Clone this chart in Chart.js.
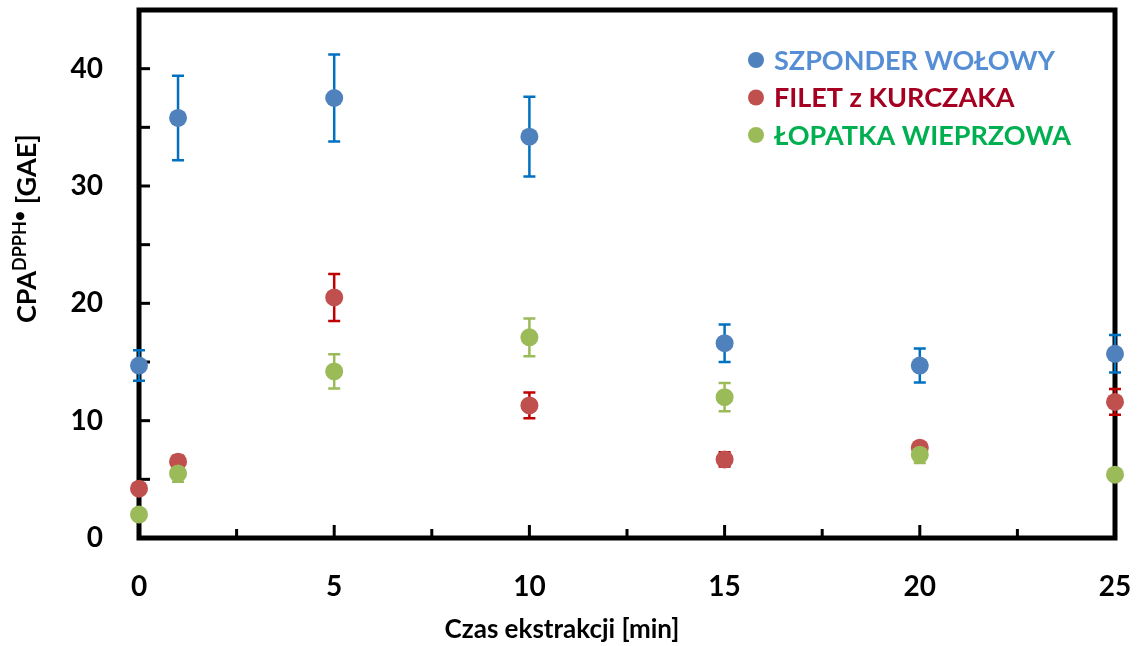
<!DOCTYPE html>
<html>
<head>
<meta charset="utf-8">
<script src="https://cdn.jsdelivr.net/npm/chart.js@4"></script>
<style>
  html, body { margin: 0; padding: 0; background: #fff; }
  #wrap { width: 1142px; height: 646px; }
</style>
</head>
<body>
<div id="wrap"><canvas id="cpaChart"></canvas></div>
<script>
// extraction time [min]
const times = [0, 1, 5, 10, 15, 20, 25];

const szponder = [14.7, 35.8, 37.5, 34.2, 16.6, 14.7, 15.7];
const szponderErr = [1.3, 3.6, 3.7, 3.4, 1.6, 1.45, 1.6];
const filet = [4.2, 6.5, 20.5, 11.3, 6.7, 7.7, 11.6];
const filetErr = [0.2, 0.5, 2.0, 1.1, 0.6, 0.4, 1.1];
const lopatka = [2.0, 5.5, 14.2, 17.1, 12.0, 7.1, 5.4];
const lopatkaErr = [0.1, 0.7, 1.45, 1.6, 1.2, 0.7, 0.2];

const seriesNames = ['SZPONDER WOŁOWY', 'FILET z KURCZAKA', 'ŁOPATKA WIEPRZOWA'];
const xTicks = [0, 5, 10, 15, 20, 25];
const yTicks = [0, 10, 20, 30, 40];

const FONT = 'Lato, "Open Sans", sans-serif';

function points(ys) {
  return times.map((t, i) => ({ x: t, y: ys[i] }));
}

function noPadding(s) {
  s.paddingTop = 0;
  s.paddingBottom = 0;
  s.paddingLeft = 0;
  s.paddingRight = 0;
}

// frame, inward ticks, error bars
const decorPlugin = {
  id: 'decor',
  beforeDatasetsDraw(chart) {
    const { ctx, chartArea: a, scales: { x, y } } = chart;
    ctx.save();
    ctx.strokeStyle = '#000';
    ctx.lineWidth = 5;
    ctx.strokeRect(a.left, a.top, a.right - a.left, a.bottom - a.top);

    ctx.lineWidth = 3;
    for (let v = 0; v <= 45; v += 5) {
      const py = y.getPixelForValue(v);
      ctx.beginPath();
      ctx.moveTo(a.left, py);
      ctx.lineTo(a.left + 11, py);
      ctx.stroke();
    }
    for (let v = 0; v <= 25; v += 2.5) {
      const px = x.getPixelForValue(v);
      const len = (v % 5 === 0) ? 13 : 9;
      ctx.beginPath();
      ctx.moveTo(px, a.bottom);
      ctx.lineTo(px, a.bottom - len);
      ctx.stroke();
    }

    chart.data.datasets.forEach(ds => {
      ctx.strokeStyle = ds.errColor;
      ctx.lineWidth = 2.5;
      ds.data.forEach((p, i) => {
        const e = ds.err[i];
        const px = x.getPixelForValue(p.x);
        const top = y.getPixelForValue(p.y + e);
        const bot = y.getPixelForValue(p.y - e);
        ctx.beginPath();
        ctx.moveTo(px, top);
        ctx.lineTo(px, bot);
        ctx.moveTo(px - 6, top);
        ctx.lineTo(px + 6, top);
        ctx.moveTo(px - 6, bot);
        ctx.lineTo(px + 6, bot);
        ctx.stroke();
      });
    });
    ctx.restore();
  },
  afterDraw(chart) {
    const { ctx } = chart;
    ctx.save();
    // legend
    chart.data.datasets.forEach((ds, i) => {
      const cy = 60 + i * 37.5;
      ctx.fillStyle = ds.backgroundColor;
      ctx.beginPath();
      ctx.arc(756, cy, 8, 0, Math.PI * 2);
      ctx.fill();
      ctx.fillStyle = ds.legendColor;
      ctx.font = 'bold 27px ' + FONT;
      ctx.textBaseline = 'middle';
      ctx.textAlign = 'left';
      ctx.fillText(ds.label, 774, cy + 1);
    });

    // x axis title
    ctx.fillStyle = '#000';
    ctx.font = 'bold 26px ' + FONT;
    ctx.textAlign = 'center';
    ctx.textBaseline = 'alphabetic';
    ctx.fillText('Czas ekstrakcji [min]', 562, 638);

    // y axis title with superscript
    ctx.translate(36, 323);
    ctx.rotate(-Math.PI / 2);
    ctx.textAlign = 'left';
    ctx.font = 'bold 27px ' + FONT;
    ctx.fillText('CPA', 0, 0);
    let w = ctx.measureText('CPA').width;
    ctx.font = 'bold 18px ' + FONT;
    ctx.fillText('DPPH•', w, -10);
    w += ctx.measureText('DPPH•').width;
    ctx.font = 'bold 27px ' + FONT;
    ctx.fillText(' [GAE]', w, 0);
    ctx.restore();
  }
};

new Chart(document.getElementById('cpaChart'), {
  type: 'scatter',
  data: {
    datasets: [{
      label: seriesNames[0],
      data: points(szponder),
      err: szponderErr,
      backgroundColor: '#4F81BD',
      borderColor: '#4F81BD',
      errColor: '#0070C0',
      legendColor: '#558ED5',
      order: 3
    }, {
      label: seriesNames[1],
      data: points(filet),
      err: filetErr,
      backgroundColor: '#C0504D',
      borderColor: '#C0504D',
      errColor: '#C00000',
      legendColor: '#A50021',
      order: 2
    }, {
      label: seriesNames[2],
      data: points(lopatka),
      err: lopatkaErr,
      backgroundColor: '#9BBB59',
      borderColor: '#9BBB59',
      errColor: '#9BBB59',
      legendColor: '#00B050',
      order: 1
    }]
  },
  options: {
    responsive: true,
    maintainAspectRatio: false,
    animation: false,
    clip: false,
    layout: { padding: { top: 10, right: 27, bottom: 0, left: 0 } },
    elements: {
      point: { radius: 9, hoverRadius: 9, borderWidth: 0 }
    },
    plugins: {
      legend: { display: false },
      tooltip: { enabled: false }
    },
    scales: {
      x: {
        type: 'linear',
        min: 0,
        max: 25,
        afterBuildTicks: s => { s.ticks = xTicks.map(v => ({ value: v })); },
        afterFit: s => { s.height = 108; noPadding(s); },
        grid: { display: false, drawTicks: false },
        border: { display: false },
        ticks: {
          color: '#000',
          font: { family: FONT, size: 28, weight: 'bold' },
          padding: 32,
          maxRotation: 0
        }
      },
      y: {
        min: 0,
        max: 45,
        afterBuildTicks: s => { s.ticks = yTicks.map(v => ({ value: v })); },
        afterFit: s => { s.width = 139; noPadding(s); },
        grid: { display: false, drawTicks: false },
        border: { display: false },
        ticks: {
          color: '#000',
          font: { family: FONT, size: 28, weight: 'bold' },
          padding: 36
        }
      }
    }
  },
  plugins: [decorPlugin]
});
</script>
</body>
</html>
